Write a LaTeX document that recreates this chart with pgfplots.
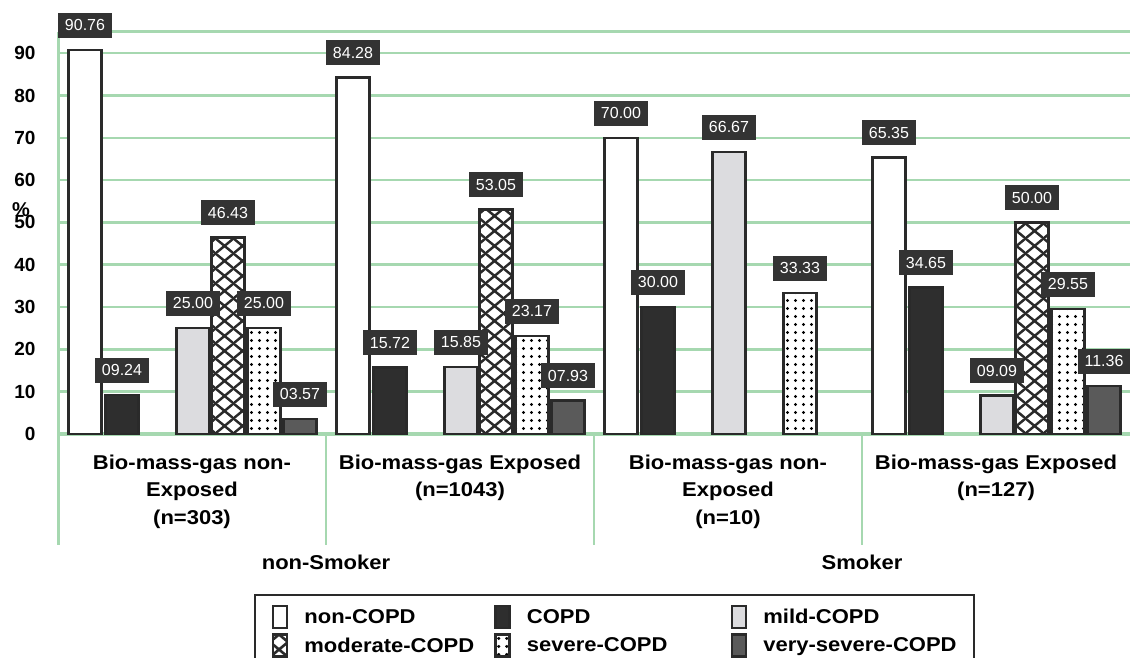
\documentclass[border=0pt]{standalone}
\usepackage{fontspec}
\setmainfont{Liberation Sans}
\newfontfamily\wide[FakeStretch=1.1]{Liberation Sans}
\usepackage{pgfplots}
\pgfplotsset{compat=1.18}
\usetikzlibrary{patterns.meta}

\definecolor{gridgreen}{HTML}{A6D8B0}
\definecolor{barline}{HTML}{2A2A2A}
\definecolor{copd}{HTML}{2E2E2E}
\definecolor{mild}{HTML}{DCDCDF}
\definecolor{vsev}{HTML}{5A5A5A}
\definecolor{lblbox}{HTML}{333333}

% big cross hatch for moderate-COPD
\tikzdeclarepattern{
  name=bigcross, type=uncolored,
  bounding box={(0pt,0pt) and (18pt,15pt)},
  tile size={(18pt,15pt)},
  code={\draw[line width=2.6pt] (-3pt,-2.5pt) -- (21pt,17.5pt) (-3pt,17.5pt) -- (21pt,-2.5pt);}
}
% dense dots for severe-COPD
\tikzdeclarepattern{
  name=bigdots, type=uncolored,
  bounding box={(0pt,0pt) and (7.5pt,7.5pt)},
  tile size={(7.5pt,7.5pt)},
  code={\fill (3.75pt,3.75pt) circle (1.7pt);}
}

\begin{document}
\begin{tikzpicture}
\begin{axis}[
name=ax,
scale only axis,
width=1072pt, height=402pt,
xmin=0, xmax=4, ymin=0, ymax=95,
ybar, bar width=33pt,
clip=false,
axis line style={draw=none},
major tick length=0pt,
ytick={0,10,...,90},
yticklabel style={font=\bfseries\fontsize{19}{20}\selectfont, xshift=-19pt},
/pgf/number format/assume math mode=true,
xtick={0.5,1.5,2.5,3.5},
xticklabels={Bio-mass-gas non-\\Exposed\\(n=303),
              Bio-mass-gas Exposed\\(n=1043),
              Bio-mass-gas non-\\Exposed\\(n=10),
              Bio-mass-gas Exposed\\(n=127)},
xticklabel style={align=center, font=\wide\bfseries\fontsize{20}{27.5}\selectfont, yshift=-17pt},
ymajorgrids,
grid style={gridgreen, line width=2.5pt},
point meta=explicit symbolic,
nodes near coords,
every node near coord/.append style={
  font=\fontsize{16}{16}\selectfont, text=white, fill=lblbox,
  inner xsep=7pt, minimum height=25pt, anchor=south, yshift=11pt},
every axis plot/.append style={draw=barline, line width=2.5pt},
legend columns=3,
legend cell align=left,
legend image code/.code={\draw[#1] (0pt,-11pt) rectangle (14pt,11pt);},
legend style={at={(axis description cs:0.1828,-0.398)}, anchor=north west,
  draw=barline, line width=1.8pt, inner xsep=17pt, inner ysep=10pt,
  font=\wide\bfseries\fontsize{20}{20}\selectfont, row sep=4pt,
  nodes={inner ysep=1pt, inner xsep=0pt},
  /tikz/every odd column/.append style={column sep=16pt}},
]

% frame lines and group separators
\draw[gridgreen, line width=3pt] (axis cs:0,95) -- (axis cs:4,95);
\draw[gridgreen, line width=3.5pt] (axis cs:0,0) -- (axis cs:4,0);
\draw[gridgreen, line width=3pt] (axis cs:0,95) -- ([yshift=-111pt]axis cs:0,0);
\draw[gridgreen, line width=2.5pt] (axis cs:1,0) -- ([yshift=-111pt]axis cs:1,0);
\draw[gridgreen, line width=2.5pt] (axis cs:2,0) -- ([yshift=-111pt]axis cs:2,0);
\draw[gridgreen, line width=2.5pt] (axis cs:3,0) -- ([yshift=-111pt]axis cs:3,0);

\addplot[fill=white, bar shift=-107pt] coordinates {
(0.5,90.76) [90.76] (1.5,84.28) [84.28] (2.5,70.00) [70.00] (3.5,65.35) [65.35]};
\addlegendentry{\makebox[190pt][l]{non-COPD}}

\addplot[fill=copd, bar shift=-70pt] coordinates {
(0.5,9.24) [09.24] (1.5,15.72) [15.72] (2.5,30.00) [30.00] (3.5,34.65) [34.65]};
\addlegendentry{\makebox[204pt][l]{COPD}}

\addplot[fill=mild, bar shift=1pt] coordinates {
(0.5,25.00) [25.00] (1.5,15.85) [15.85] (2.5,66.67) [66.67] (3.5,9.09) [09.09]};
\addlegendentry{mild-COPD}

\addplot[fill=white, postaction={pattern=bigcross, pattern color=barline}, bar shift=36pt] coordinates {
(0.5,46.43) [46.43] (1.5,53.05) [53.05] (3.5,50.00) [50.00]};
\addlegendentry{\makebox[190pt][l]{moderate-COPD}}

\addplot[fill=white, postaction={pattern=bigdots, pattern color=black}, bar shift=72pt] coordinates {
(0.5,25.00) [25.00] (1.5,23.17) [23.17] (2.5,33.33) [33.33] (3.5,29.55) [29.55]};
\addlegendentry{\makebox[204pt][l]{severe-COPD}}

\addplot[fill=vsev, bar shift=108pt] coordinates {
(0.5,3.57) [03.57] (1.5,7.93) [07.93] (3.5,11.36) [11.36]};
\addlegendentry{very-severe-COPD}

\node[font=\wide\bfseries\fontsize{20}{20}\selectfont] at ([yshift=-128pt]axis cs:1,0) {non-Smoker};
\node[font=\wide\bfseries\fontsize{20}{20}\selectfont] at ([yshift=-128pt]axis cs:3,0) {Smoker};
\node[font=\bfseries\fontsize{20}{20}\selectfont] at ([xshift=-37pt]axis cs:0,53) {\%};
\end{axis}
\pgfresetboundingbox
\path ([xshift=-58pt,yshift=-223pt]ax.south west) rectangle ([yshift=32pt]ax.north east);
\end{tikzpicture}
\end{document}
